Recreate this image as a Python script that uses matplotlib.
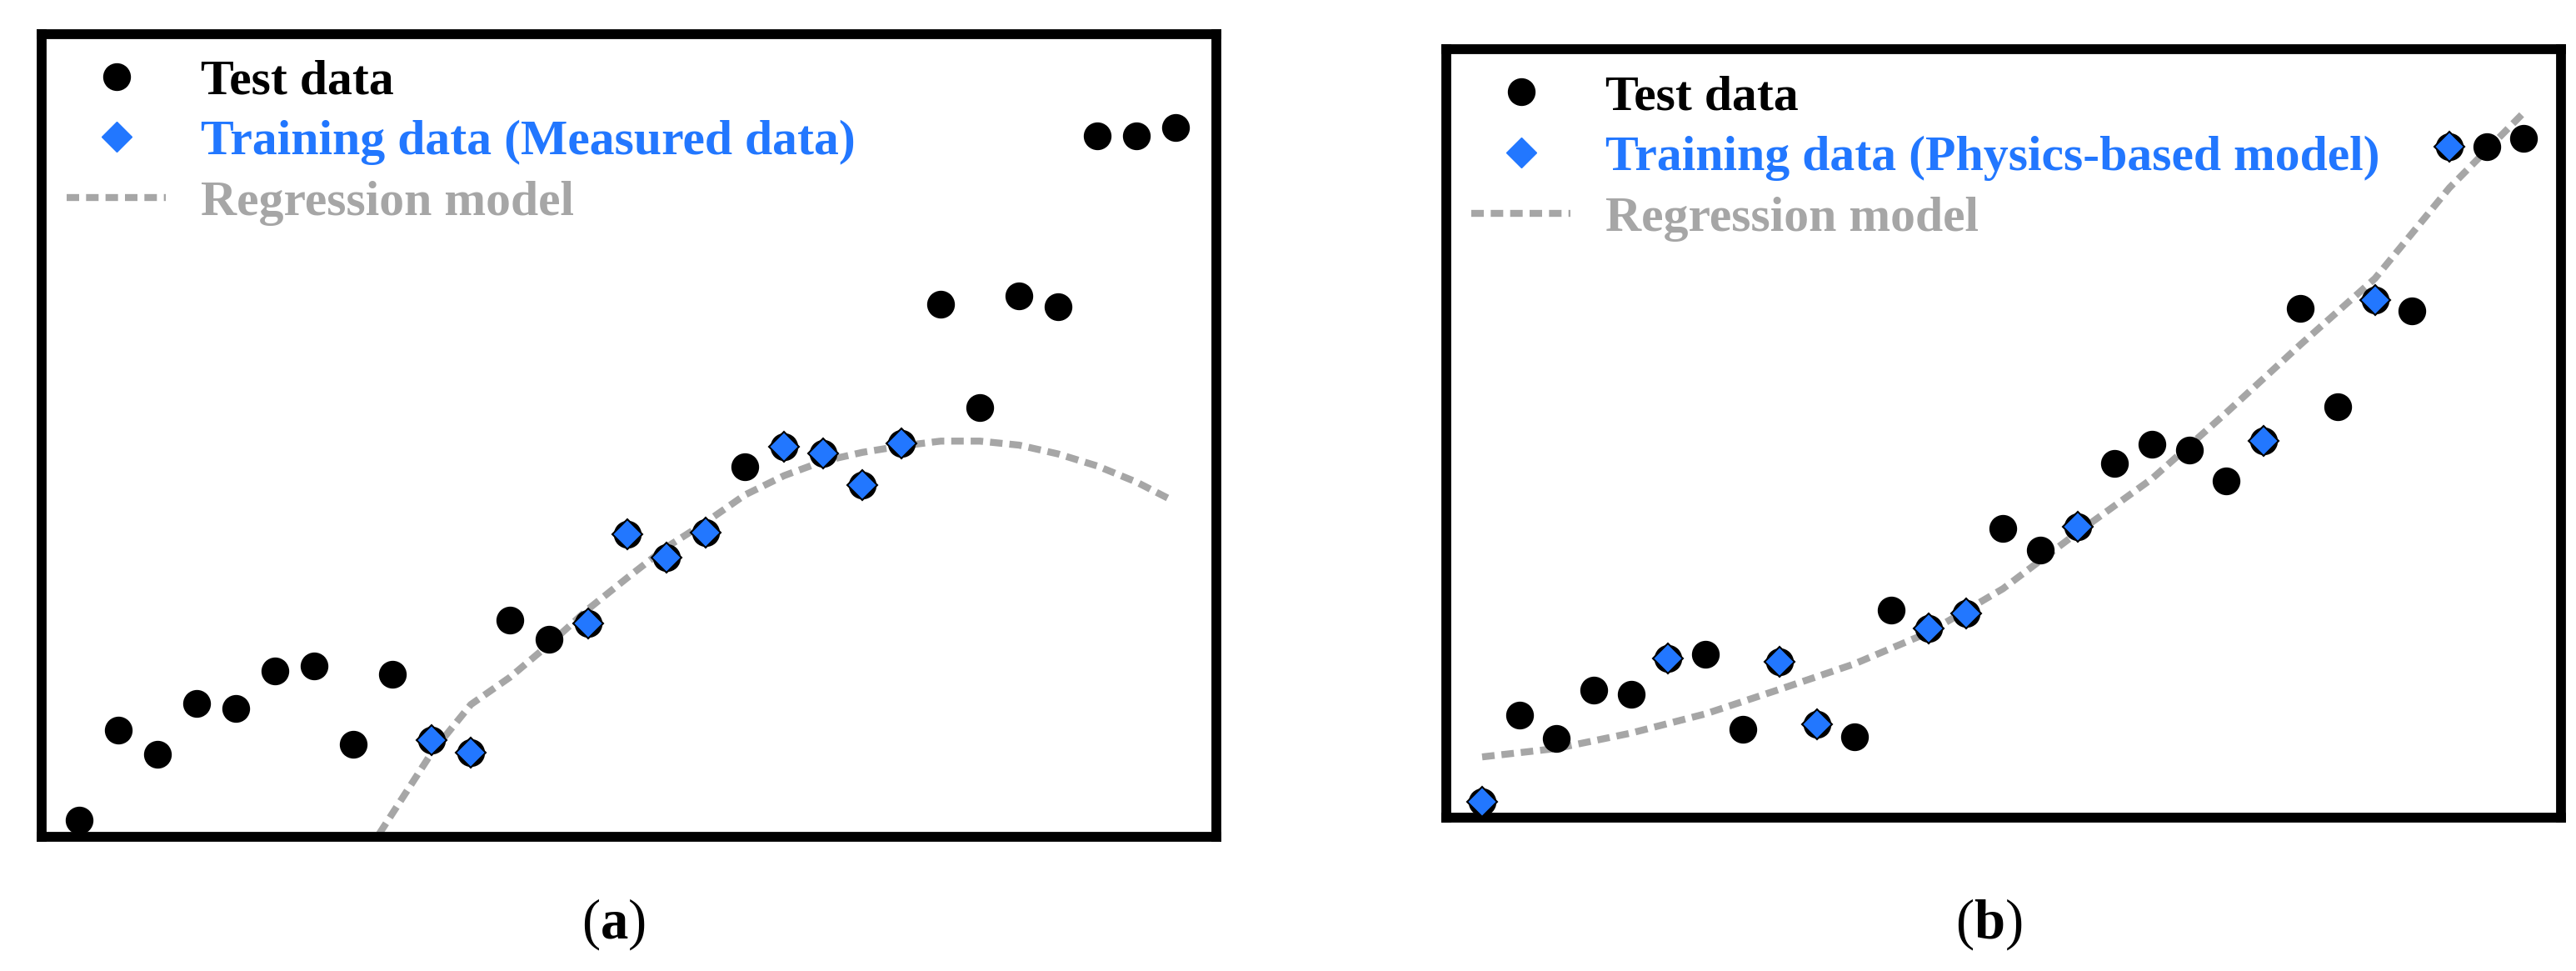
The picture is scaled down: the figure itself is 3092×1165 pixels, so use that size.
import numpy as np
import matplotlib
matplotlib.use('Agg')
import matplotlib.pyplot as plt
from matplotlib.lines import Line2D

plt.rcParams['font.family'] = ['Liberation Serif', 'DejaVu Serif']
plt.rcParams['mathtext.fontset'] = 'custom'
plt.rcParams['mathtext.bf'] = 'Liberation Serif:bold'
plt.rcParams['mathtext.rm'] = 'Liberation Serif'

# shared sample values (index 0..28)
x_idx = np.arange(29)
values = [2.1, 13.3, 10.3, 16.6, 16.0, 20.7, 21.3, 11.5, 20.3, 12.1, 10.5, 27.0, 24.6, 26.6, 37.7,
          34.8, 37.9, 46.1, 48.6, 47.8, 43.8, 49.0, 66.3, 53.5, 67.4, 66.0, 87.3, 87.3, 88.4]

# which samples are training points in each panel
train_a = [9, 10, 13, 14, 15, 16, 18, 19, 20, 21]
train_b = [0, 5, 8, 9, 12, 13, 16, 21, 24, 26]

# regression curves
reg_a_x = [7.66, 9, 10, 11, 12, 13, 14, 15, 16, 17, 18, 19, 20, 21, 22, 23, 24, 25, 26, 27, 27.8]
reg_a_y = [0.4, 10.5, 16.5, 19.9, 24.0, 28.4, 32.3, 36.1, 39.2, 42.6, 45.0, 46.8, 47.9, 48.7, 49.3,
           49.3, 48.8, 47.7, 46.2, 44.2, 42.2]
reg_b_x = [0, 2, 4, 6, 8, 10, 12, 14, 16, 18, 20, 22, 24, 26, 28]
reg_b_y = [7.9, 9.0, 11.0, 13.5, 16.7, 20.0, 24.1, 29.8, 37.1, 44.1, 52.7, 61.6, 70.2, 82.0, 91.8]

BLUE = '#2277ff'
GRAY = '#a6a6a6'
DASH = (0, (1.8, 1.0))

fig = plt.figure(figsize=(30.92, 11.65), dpi=100)
ax_a = fig.add_axes([0.0162, 0.138, 0.456, 0.827])
ax_b = fig.add_axes([0.5615, 0.158, 0.4327, 0.791])

def draw(ax, train, rx, ry, label, xlim):
    values_arr = np.array(values)
    ax.plot(rx, ry, ls=DASH, color=GRAY, lw=6, zorder=1)
    ax.plot(x_idx, values_arr, 'o', color='black', ms=23, zorder=2)
    ax.plot(x_idx[train], values_arr[train], 'D', color=BLUE, mec='black', mew=1.5,
            ms=18, zorder=3)
    ax.set_xlim(*xlim)
    ax.set_ylim(0, 100)
    ax.set_xticks([])
    ax.set_yticks([])
    for s in ax.spines.values():
        s.set_linewidth(8.5)
    handles = [Line2D([], [], marker='o', ls='', color='black', ms=23),
               Line2D([], [], marker='D', ls='', color=BLUE, ms=18),
               Line2D([], [], ls=DASH, color=GRAY, lw=6)]
    ax.legend(handles, ['Test data', label, 'Regression model'], loc='upper left',
              frameon=False, prop={'weight': 'bold', 'size': 43},
              labelcolor=['black', BLUE, GRAY], handlelength=2.0, handletextpad=0.7,
              labelspacing=0.3, borderaxespad=0.2, borderpad=0.3)

draw(ax_a, train_a, reg_a_x, reg_a_y, 'Training data (Measured data)', (-0.96, 29.04))
draw(ax_b, train_b, reg_b_x, reg_b_y, 'Training data (Physics-based model)', (-0.96, 29.0))

fig.text(0.238, 0.02, r'($\mathbf{a}$)', fontsize=48, ha='center', va='bottom')
fig.text(0.772, 0.02, r'($\mathbf{b}$)', fontsize=48, ha='center', va='bottom')

fig.savefig('out.png', dpi=100)
